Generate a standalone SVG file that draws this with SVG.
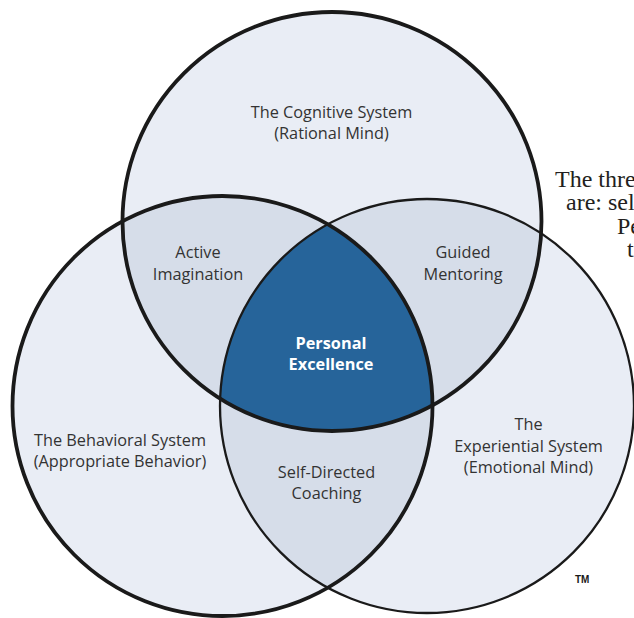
<svg xmlns="http://www.w3.org/2000/svg" width="634" height="618" viewBox="0 0 634 618">
<style>
.lbl{font-family:"Open Sans","Noto Sans","Liberation Sans",sans-serif;font-size:16.3px;fill:#333333;text-anchor:middle}
.ctr{font-family:"Open Sans","Noto Sans","Liberation Sans",sans-serif;font-size:16.3px;font-weight:bold;fill:#ffffff;text-anchor:middle}
.side{font-family:"Liberation Serif","Times New Roman",serif;font-size:24px;fill:#231f20}
.tm{font-family:"Liberation Sans",Arial,sans-serif;font-size:10px;font-weight:bold;fill:#1a1a1a}
.ring{fill:none;stroke:#1a1a1a}
</style>
<defs>
<clipPath id="cTop"><circle cx="332" cy="221.5" r="209.5"/></clipPath>
<clipPath id="cLeft"><circle cx="222.5" cy="406" r="210"/></clipPath>
<clipPath id="cRight"><circle cx="427" cy="406" r="207"/></clipPath>
</defs>
<rect width="634" height="618" fill="#ffffff"/>
<g id="side-text">
<text class="side" x="555" y="187">The thre</text>
<text class="side" x="566" y="210">are: sel</text>
<text class="side" x="617" y="234">Pe</text>
<text class="side" x="627" y="257">t</text>
</g>
<g id="fills">
<circle cx="332" cy="221.5" r="209.5" fill="#e9edf5"/>
<circle cx="222.5" cy="406" r="210" fill="#e9edf5"/>
<circle cx="427" cy="406" r="207" fill="#e9edf5"/>
<g clip-path="url(#cTop)"><circle cx="222.5" cy="406" r="210" fill="#d6dde9"/><circle cx="427" cy="406" r="207" fill="#d6dde9"/></g>
<g clip-path="url(#cLeft)"><circle cx="427" cy="406" r="207" fill="#d6dde9"/></g>
<g clip-path="url(#cTop)"><g clip-path="url(#cLeft)"><circle cx="427" cy="406" r="207" fill="#26649a"/></g></g>
</g>
<g id="connectors">
<circle class="ring" cx="427" cy="406" r="207" stroke-width="2.3"/>
<circle class="ring" cx="222.5" cy="406" r="210" stroke-width="3.8"/>
<circle class="ring" cx="332" cy="221.5" r="209.5" stroke-width="3.8"/>
</g>
<g id="cognitive">
<text class="lbl" x="331.5" y="118">The Cognitive System</text>
<text class="lbl" x="331.5" y="139">(Rational Mind)</text>
</g>
<g id="behavioral">
<text class="lbl" x="120" y="445.5">The Behavioral System</text>
<text class="lbl" x="120" y="466.5">(Appropriate Behavior)</text>
</g>
<g id="experiential">
<text class="lbl" x="528.5" y="430">The</text>
<text class="lbl" x="528.5" y="451.5">Experiential System</text>
<text class="lbl" x="528.5" y="473">(Emotional Mind)</text>
</g>
<g id="active-imagination">
<text class="lbl" x="198" y="258">Active</text>
<text class="lbl" x="198" y="280">Imagination</text>
</g>
<g id="guided-mentoring">
<text class="lbl" x="463" y="258">Guided</text>
<text class="lbl" x="463" y="280">Mentoring</text>
</g>
<g id="self-directed-coaching">
<text class="lbl" x="326.5" y="477.5">Self-Directed</text>
<text class="lbl" x="326.5" y="499">Coaching</text>
</g>
<g id="personal-excellence">
<text class="ctr" x="331" y="349">Personal</text>
<text class="ctr" x="331" y="370">Excellence</text>
</g>
<g id="trademark">
<text class="tm" x="575" y="583">TM</text>
</g>
</svg>
